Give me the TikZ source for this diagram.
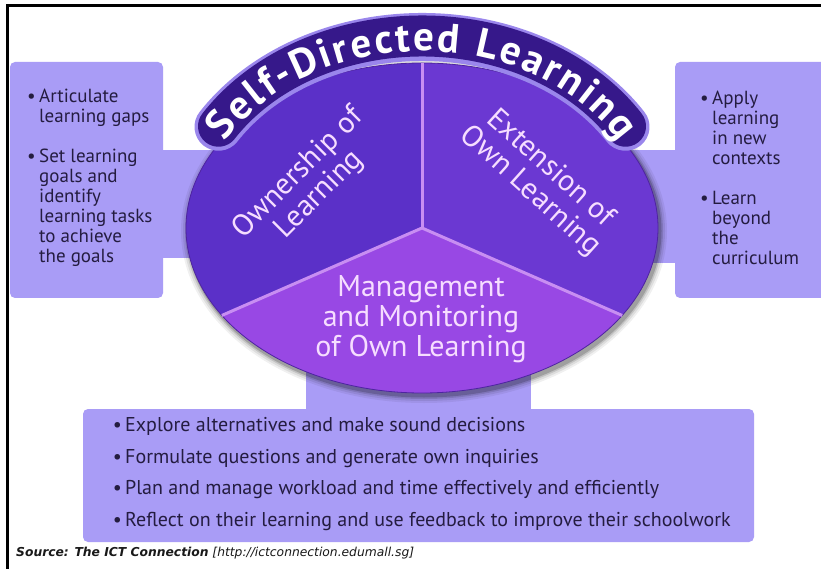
\documentclass[tikz,border=0pt]{standalone}
\usepackage{fontspec}
\setmainfont{PT Sans}
\newfontfamily\bannerfont{PT Sans}
\newfontfamily\srcfont{DejaVu Sans}
\usetikzlibrary{calc,decorations.text}

\definecolor{boxcol}{RGB}{169,156,246}
\definecolor{leftsec}{RGB}{91,48,200}
\definecolor{rightsec}{RGB}{107,56,210}
\definecolor{botsec}{RGB}{152,72,228}
\definecolor{divcol}{RGB}{200,142,242}
\definecolor{bandcol}{RGB}{54,24,138}
\definecolor{rimcol}{RGB}{154,134,236}
\definecolor{segink}{RGB}{246,221,255}
\definecolor{boxink}{RGB}{36,28,64}
\definecolor{edgecol}{RGB}{78,36,160}

\tikzset{
  panel/.style={fill=boxcol, draw=none},
  boxtxt/.style={font=\fontsize{19}{20}\selectfont, text=boxink, inner sep=0pt, anchor=base west},
  bul/.style={font=\fontsize{19}{20}\selectfont, text=boxink, inner sep=0pt, anchor=base east},
  wide/.style={font=\fontsize{20}{22}\selectfont},
  segtxt/.style={font=\fontsize{30}{30}\selectfont, text=segink, align=center, inner sep=0pt},
}

\begin{document}
\begin{tikzpicture}[x=1pt,y=1pt]
\useasboundingbox (0,0) rectangle (821,568);
\fill[white] (0,0) rectangle (821,568);

% frame
\draw[line width=3pt, black] (7,-5) -- (7,562) -- (830,562);

% side panels and their connecting bands
\fill[panel, rounded corners=5pt] (10,270) rectangle (163,506);
\fill[panel] (150,310) rectangle (300,418);
\fill[panel, rounded corners=5pt] (675,270) rectangle (840,506);
\fill[panel] (540,305) rectangle (690,418);
\fill[panel, rounded corners=5pt] (83,26) rectangle (754,159);
\fill[panel] (306,150) rectangle (531,240);

\coordinate (C) at (422,340);

% soft shadow of the disc
\foreach \s/\o in {7/0.06,5/0.08,3/0.12,1.5/0.18}
  \fill[black, opacity=\o] ($(C)+(2,-3)$) ellipse [x radius=236+\s, y radius=165+\s];

% three sectors
\fill[leftsec] (C) -- ($(C)+(90:236 and 165)$)
  arc[start angle=90, end angle=212, x radius=236, y radius=165] -- cycle;
\fill[rightsec] (C) -- ($(C)+(-32:236 and 165)$)
  arc[start angle=-32, end angle=90, x radius=236, y radius=165] -- cycle;
\fill[botsec] (C) -- ($(C)+(212:236 and 165)$)
  arc[start angle=212, end angle=328, x radius=236, y radius=165] -- cycle;
\draw[edgecol, line width=0.8pt] (C) ellipse [x radius=236, y radius=165];

% dividers
\coordinate (dTop) at ($(C)+(90:236 and 165)$);
\coordinate (dLeft) at ($(C)+(212:236 and 165)$);
\coordinate (dRight) at ($(C)+(328:236 and 165)$);
\draw[divcol, line width=3pt] (C) -- (dTop);
\draw[divcol, line width=3pt] (C) -- (dLeft);
\draw[divcol, line width=3pt] (C) -- (dRight);

% title band
\draw[rimcol, line width=48pt, line cap=round] ($(C)+(148:240 and 191)$)
  arc[start angle=148, end angle=32, x radius=240, y radius=191];
\draw[bandcol, line width=41pt, line cap=round] ($(C)+(148:240 and 192)$)
  arc[start angle=148, end angle=32, x radius=240, y radius=192];
\path[decorate, decoration={text along path,
  text={|\bannerfont\bfseries\fontsize{41}{41}\selectfont|Self-Directed Learning},
  text align={fit to path}, text color=white}]
  ($(C)+(151:225 and 177)$) arc[start angle=151, end angle=29, x radius=225, y radius=177];

% sector labels
\node[segtxt, rotate=45] (own) at (309,384) {Ownership of\\Learning};
\node[segtxt, rotate=-42] (ext) at (540,388) {Extension of\\Own Learning};
\node[segtxt] (mgt) at (421,249) {Management\\and Monitoring\\of Own Learning};

% left panel text
\node[bul] (lb1) at (36,465) {\textbullet};
\foreach \t [count=\i] in {Articulate, learning gaps}
  \node[boxtxt] (la\i) at (39,465-20*\i+20) {\t};
\node[bul] (lb2) at (36,405) {\textbullet};
\foreach \t [count=\i] in {Set learning, goals and, identify, learning tasks, to achieve, the goals}
  \node[boxtxt] (ls\i) at (39,405-20*\i+20) {\t};

% right panel text
\node[bul] (rb1) at (709,463) {\textbullet};
\foreach \t [count=\i] in {Apply, learning, in new, contexts}
  \node[boxtxt] (ra\i) at (712,463-20*\i+20) {\t};
\node[bul] (rb2) at (709,363) {\textbullet};
\foreach \t [count=\i] in {Learn, beyond, the, curriculum}
  \node[boxtxt] (rl\i) at (712,363-20*\i+20) {\t};

% bottom panel text
\foreach \t/\y [count=\i] in {Explore alternatives and make sound decisions/137,
  Formulate questions and generate own inquiries/105,
  Plan and manage workload and time effectively and efficiently/74,
  Reflect on their learning and use feedback to improve their schoolwork/42}{
  \node[bul, wide] (bb\i) at (122,\y) {\textbullet};
  \node[boxtxt, wide] (bt\i) at (125,\y) {\t};
}

% source line
\node[anchor=base west, inner sep=0pt, text=black!90,
  font=\srcfont\fontsize{12.3}{14}\selectfont] (src) at (16,12)
  {\textbf{\itshape Source: The ICT Connection} \itshape[http://ictconnection.edumall.sg]};
\end{tikzpicture}
\end{document}
